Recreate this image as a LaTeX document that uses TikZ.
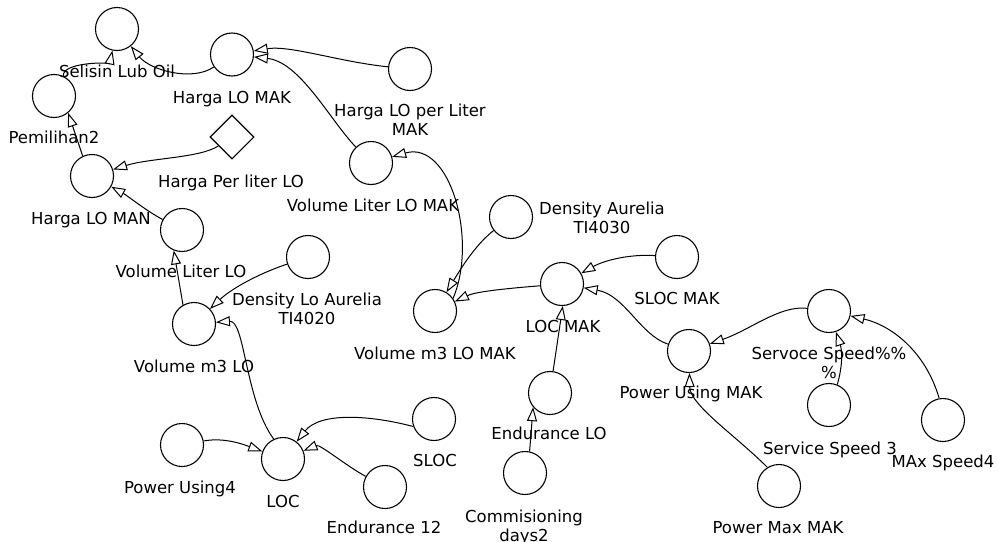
\documentclass[tikz,border=0pt]{standalone}
\usepackage{fontspec}
\setmainfont{DejaVu Sans}
\usetikzlibrary{arrows.meta,shapes.geometric}
\tikzset{
  stock/.style={circle,draw,line width=1.1pt,minimum size=43pt,inner sep=0pt},
  const/.style={diamond,draw,line width=1.1pt,minimum width=44pt,minimum height=44pt,inner sep=0pt},
  lbl/.style={anchor=base,inner sep=0pt,align=center,font=\fontsize{16.5}{19.5}\selectfont},
  link/.style={line width=1pt,-{Triangle[length=14pt,width=10pt,fill=white,line width=1pt]}}
}
\begin{document}
\begin{tikzpicture}[x=1pt,y=-1pt]
\useasboundingbox[fill=white] (0,0) rectangle (998,541);

% variables
\node[stock] (sel)    at (117,29)  {};
\node[stock] (hlmak)  at (232,54.5){};
\node[stock] (hlpl)   at (410,69)  {};
\node[stock] (pem)    at (54,96)   {};
\node[const] (dia)    at (232,137) {};
\node[stock] (hlman)  at (92,176)  {};
\node[stock] (vllmak) at (371,163) {};
\node[stock] (vll)    at (182,230) {};
\node[stock] (dloa)   at (308,257) {};
\node[stock] (vm3)    at (194,324) {};
\node[stock] (vm3mak) at (435,311) {};
\node[stock] (da)     at (511,217) {};
\node[stock] (locmak) at (562,284) {};
\node[stock] (slocmak)at (677,257) {};
\node[stock] (pumak)  at (689,351) {};
\node[stock] (endlo)  at (550,393) {};
\node[stock] (cd2)    at (525,473) {};
\node[stock] (ss)     at (829,311) {};
\node[stock] (sspd3)  at (829,405) {};
\node[stock] (mx4)    at (943,420) {};
\node[stock] (pmm)    at (779,486) {};
\node[stock] (loc)    at (283,459) {};
\node[stock] (pu4)    at (182,445) {};
\node[stock] (sloc)   at (434,419) {};
\node[stock] (end12)  at (385,487) {};

% names (the base of a two-line name is its second line)
\node[lbl] (sel-l)    at (117,77)  {Selisin Lub Oil};
\node[lbl] (hlmak-l)  at (232,103) {Harga LO MAK};
\node[lbl] (hlpl-l)   at (410,135.5) {Harga LO per Liter\\MAK};
\node[lbl] (pem-l)    at (54,143)  {Pemilihan2};
\node[lbl] (dia-l)    at (231,187) {Harga Per liter LO};
\node[lbl] (hlman-l)  at (91,224)  {Harga LO MAN};
\node[lbl] (vllmak-l) at (373,211) {Volume Liter LO MAK};
\node[lbl] (vll-l)    at (181,277) {Volume Liter LO};
\node[lbl] (dloa-l)   at (307,324.5) {Density Lo Aurelia\\TI4020};
\node[lbl] (vm3-l)    at (194,372) {Volume m3 LO};
\node[lbl] (vm3mak-l) at (435,359) {Volume m3 LO MAK};
\node[lbl] (da-l)     at (602,233.5) {Density Aurelia\\TI4030};
\node[lbl] (locmak-l) at (563,332) {LOC MAK};
\node[lbl] (slocmak-l)at (677,304) {SLOC MAK};
\node[lbl] (pumak-l)  at (691,398) {Power Using MAK};
\node[lbl] (endlo-l)  at (549,439) {Endurance LO};
\node[lbl] (cd2-l)    at (524,541.5) {Commisioning\\days2};
\node[lbl] (ss-l)     at (829,378.5) {Servoce Speed\%\%\\\%};
\node[lbl] (sspd3-l)  at (830,454) {Service Speed 3};
\node[lbl] (mx4-l)    at (943,467) {MAx Speed4};
\node[lbl] (pmm-l)    at (778,533) {Power Max MAK};
\node[lbl] (loc-l)    at (283,507) {LOC};
\node[lbl] (pu4-l)    at (180,493) {Power Using4};
\node[lbl] (sloc-l)   at (435,466) {SLOC};
\node[lbl] (end12-l)  at (384,533) {Endurance 12};

% links
\draw[link] (hlmak) .. controls (192,82) and (150,70) .. (sel);
\draw[link] (pem.65) .. controls (62,62) and (110,62) .. (sel);
\draw[link] (hlpl) .. controls (340,62) and (290,45) .. (hlmak);
\draw[link] (vllmak) .. controls (330,120) and (300,62) .. (hlmak);
\draw[link] (dia) .. controls (200,158) and (150,158) .. (hlman);
\draw[link] (hlman.115) -- (pem.-50);
\draw[link] (vll) .. controls (145,210) and (128,196) .. (hlman);
\draw[link] (vm3.120) -- (vll.-112);
\draw[link] (dloa) .. controls (255,275) and (230,290) .. (vm3);
\draw[link] (loc.115) .. controls (245,400) and (245,320) .. (vm3);
\draw[link] (pu4) .. controls (225,437) and (245,445) .. (loc);
\draw[link] (sloc.200) .. controls (370,415) and (320,412) .. (loc);
\draw[link] (end12) .. controls (345,465) and (320,444) .. (loc);
\draw[link] (vm3mak.35) .. controls (478,240) and (450,140) .. (vllmak);
\draw[link] (da) .. controls (475,245) and (460,270) .. (vm3mak);
\draw[link] (locmak) .. controls (500,289) and (475,292) .. (vm3mak);
\draw[link] (slocmak) .. controls (630,254) and (605,260) .. (locmak);
\draw[link] (pumak) .. controls (640,335) and (625,295) .. (locmak);
\draw[link] (endlo.82) -- (locmak.-88);
\draw[link] (cd2.78) -- (endlo.-140);
\draw[link] (ss) .. controls (780,305) and (750,330) .. (pumak);
\draw[link] (sspd3.68) .. controls (843,365) and (842,350) .. (ss);
\draw[link] (mx4.100) .. controls (925,350) and (890,325) .. (ss);
\draw[link] (pmm.122) .. controls (735,435) and (690,405) .. (pumak);
\end{tikzpicture}
\end{document}
